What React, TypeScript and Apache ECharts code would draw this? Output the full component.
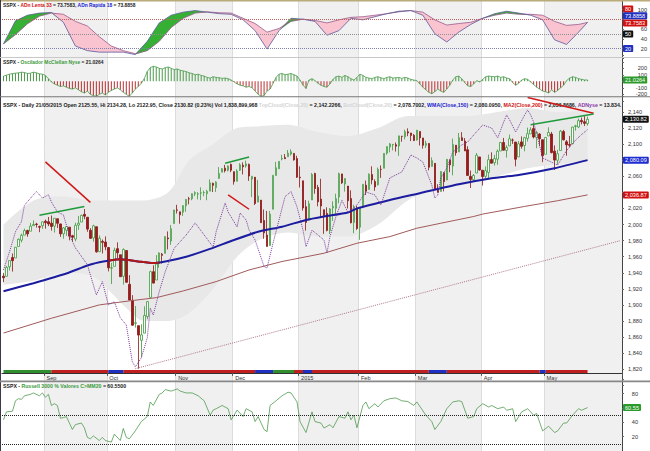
import React, { useEffect, useRef } from 'react';
import * as echarts from 'echarts';

// ---------- categories ----------
const HOLIDAYS = ['2014-09-01', '2014-11-27', '2014-12-25', '2015-01-01', '2015-01-19', '2015-02-16', '2015-04-03', '2015-05-25'];
const MONTH_NAMES = ['Jan', 'Feb', 'Mar', 'Apr', 'May', 'Jun', 'Jul', 'Aug', 'Sep', 'Oct', 'Nov', 'Dec'];
const DATA_DAYS = 196;
function buildDates(n: number): string[] {
  const out: string[] = [];
  let t = Date.UTC(2014, 7, 12);
  while (out.length < n) {
    const d = new Date(t);
    const wd = d.getUTCDay();
    const iso = d.toISOString().slice(0, 10);
    if (wd !== 0 && wd !== 6 && HOLIDAYS.indexOf(iso) < 0) out.push(iso);
    t += 86400000;
  }
  return out;
}
const DATES = buildDates(207);
const isMonthStart = (i: number) => i > 0 && i < DATA_DAYS && DATES[i].slice(5, 7) !== DATES[i - 1].slice(5, 7);
const monthLabel = (iso: string) => {
  const m = +iso.slice(5, 7);
  return m === 1 ? iso.slice(0, 4) : MONTH_NAMES[m - 1];
};

// ---------- price (open, high, low, close) ----------
const PRICES: number[][] = [
  [1935.7, 1939.6, 1928.3, 1933.75], [1935.6, 1948.4, 1935.6, 1946.72], [1947.4, 1955.2, 1942.9, 1955.18], [1958.9, 1964.0, 1941.5, 1955.06],
  [1958.4, 1971.99, 1958.4, 1971.74], [1972.7, 1982.6, 1972.7, 1981.6], [1980.5, 1988.6, 1977.7, 1986.51], [1986.8, 1994.8, 1986.8, 1992.37],
  [1992.6, 1993.5, 1984.8, 1988.4], [1991.7, 2001.9, 1991.7, 1997.92], [1998.6, 2005.0, 1998.6, 2000.02], [2000.5, 2002.1, 1996.2, 2000.12],
  [1997.4, 1998.6, 1990.5, 1996.74], [1998.5, 2003.4, 1994.6, 2003.37],
  [2004.1, 2006.1, 1994.9, 2002.28], [2003.6, 2009.3, 1998.1, 2000.72], [2001.7, 2011.2, 1992.4, 1997.65], [1998.0, 2007.7, 1990.1, 2007.71],
  [2007.2, 2007.2, 1995.6, 2001.54], [2000.7, 2001.0, 1984.6, 1988.44], [1988.4, 1996.7, 1982.3, 1995.69], [1992.9, 1997.7, 1985.9, 1997.45],
  [1996.7, 1996.7, 1980.3, 1985.54], [1986.0, 1987.2, 1978.5, 1984.13], [1981.9, 2002.3, 1979.1, 1998.98], [1999.3, 2010.7, 1993.3, 2001.57],
  [2003.1, 2012.3, 2003.1, 2011.36], [2012.7, 2019.3, 2006.6, 2010.4], [2009.1, 2009.1, 1991.0, 1994.29], [1992.8, 1995.4, 1982.3, 1982.77],
  [1983.3, 1999.8, 1978.6, 1998.3], [1997.3, 1997.3, 1965.0, 1965.99], [1966.2, 1986.4, 1966.2, 1982.85], [1978.96, 1981.3, 1964.0, 1977.8],
  [1978.2, 1985.2, 1968.0, 1972.29],
  [1971.4, 1971.4, 1941.7, 1946.16], [1945.8, 1952.3, 1926.0, 1946.17], [1948.0, 1971.2, 1948.0, 1967.9], [1970.0, 1977.8, 1958.4, 1964.82],
  [1962.4, 1962.4, 1935.1, 1935.1], [1935.6, 1970.4, 1925.3, 1968.89], [1967.7, 1967.7, 1927.6, 1928.21], [1925.6, 1936.98, 1906.05, 1906.13],
  [1905.7, 1912.1, 1874.1, 1874.74], [1877.1, 1898.7, 1871.8, 1877.7], [1874.2, 1874.2, 1820.7, 1862.49], [1855.95, 1876.0, 1835.0, 1862.76],
  [1864.9, 1898.2, 1864.9, 1886.76], [1885.6, 1905.0, 1882.3, 1904.01], [1909.4, 1942.5, 1909.4, 1941.28], [1941.3, 1949.3, 1926.8, 1927.11],
  [1931.0, 1961.95, 1931.0, 1950.82], [1951.6, 1965.3, 1946.3, 1964.58], [1962.97, 1964.6, 1951.4, 1961.63], [1964.1, 1985.1, 1964.1, 1985.05],
  [1983.3, 1991.4, 1969.0, 1982.3], [1979.5, 1999.4, 1974.8, 1994.65], [2001.2, 2018.2, 2001.2, 2018.05],
  [2018.2, 2024.5, 2013.7, 2017.81], [2015.8, 2015.98, 2001.0, 2012.1], [2015.3, 2023.8, 2010.7, 2023.57], [2023.3, 2031.6, 2015.9, 2031.21],
  [2032.0, 2034.3, 2025.1, 2031.92], [2032.0, 2038.7, 2030.2, 2038.26], [2038.2, 2041.3, 2035.3, 2039.68], [2037.8, 2040.3, 2031.3, 2038.25],
  [2039.2, 2046.2, 2030.4, 2039.33], [2039.7, 2042.2, 2035.2, 2039.82], [2038.3, 2043.1, 2030.2, 2041.32], [2041.5, 2056.1, 2041.5, 2051.8],
  [2051.2, 2052.1, 2040.4, 2048.72], [2045.9, 2053.8, 2040.5, 2052.75], [2057.5, 2071.5, 2056.8, 2063.5], [2065.1, 2070.2, 2065.1, 2069.41],
  [2070.1, 2074.2, 2064.8, 2067.03], [2067.4, 2073.3, 2066.1, 2072.83], [2074.8, 2075.8, 2065.1, 2067.56],
  [2065.8, 2065.8, 2049.6, 2053.44], [2053.8, 2068.8, 2053.8, 2066.55], [2067.5, 2076.3, 2066.7, 2074.33], [2073.6, 2077.3, 2062.3, 2071.92],
  [2072.8, 2079.5, 2070.8, 2075.37], [2074.8, 2075.8, 2054.3, 2060.31], [2056.6, 2060.6, 2034.2, 2059.82], [2058.9, 2058.9, 2024.3, 2026.14],
  [2027.9, 2055.5, 2027.9, 2035.33], [2030.4, 2030.4, 2002.3, 2002.33], [2005.0, 2018.7, 1982.3, 1989.63], [1986.7, 2016.9, 1972.6, 1972.74],
  [1973.8, 2016.8, 1973.8, 2012.89], [2018.98, 2061.2, 2018.98, 2061.23], [2061.0, 2077.9, 2061.0, 2070.65], [2069.3, 2078.8, 2069.3, 2078.54],
  [2081.5, 2086.7, 2079.8, 2082.17], [2083.3, 2087.6, 2081.9, 2081.88], [2084.3, 2092.7, 2084.3, 2088.77], [2087.6, 2093.6, 2085.8, 2090.57],
  [2088.5, 2088.5, 2079.5, 2080.35], [2082.1, 2085.6, 2057.9, 2058.9],
  [2058.9, 2072.4, 2046.0, 2058.2], [2054.4, 2054.4, 2017.3, 2020.58], [2022.2, 2030.3, 1992.4, 2002.61], [2005.6, 2029.6, 2005.6, 2025.9],
  [2030.6, 2064.1, 2030.6, 2062.14], [2063.5, 2064.4, 2038.3, 2044.81], [2046.1, 2049.3, 2022.6, 2028.26], [2031.6, 2056.9, 2008.3, 2023.03],
  [2018.4, 2018.4, 1988.4, 2011.27], [2013.8, 2021.4, 1991.5, 1992.67], [1992.3, 2020.5, 1988.1, 2019.42], [2020.8, 2028.9, 2004.5, 2022.55],
  [2020.2, 2038.3, 2012.0, 2032.12], [2034.3, 2064.6, 2026.4, 2063.15], [2062.98, 2062.98, 2050.5, 2051.82], [2050.4, 2057.6, 2040.97, 2057.09],
  [2047.9, 2047.9, 2019.9, 2029.55], [2032.3, 2042.5, 2001.5, 2002.16], [2002.5, 2024.6, 1989.2, 2021.25], [2019.4, 2023.3, 1993.4, 1994.99],
  [1996.7, 2021.7, 1980.9, 2020.85], [2022.7, 2050.3, 2022.7, 2050.03], [2048.9, 2054.7, 2036.7, 2041.51], [2043.5, 2063.6, 2043.5, 2062.52],
  [2062.3, 2072.4, 2049.97, 2055.47], [2053.5, 2056.2, 2041.9, 2046.74], [2049.4, 2070.9, 2048.6, 2068.59], [2068.6, 2073.5, 2057.99, 2068.53],
  [2069.98, 2088.5, 2069.98, 2088.48], [2088.8, 2097.0, 2086.7, 2096.99], [2096.5, 2101.3, 2089.8, 2100.34], [2099.2, 2100.2, 2092.2, 2099.68],
  [2099.3, 2102.1, 2090.8, 2097.45], [2097.7, 2110.6, 2085.4, 2110.3], [2109.8, 2110.1, 2103.0, 2109.66], [2109.1, 2117.9, 2105.9, 2115.48],
  [2115.3, 2119.6, 2109.9, 2113.86], [2113.9, 2113.9, 2103.8, 2110.74], [2110.9, 2112.7, 2103.8, 2104.5],
  [2105.2, 2117.5, 2104.5, 2117.39], [2115.8, 2115.8, 2098.3, 2107.78], [2107.7, 2107.7, 2094.5, 2098.53], [2098.5, 2104.3, 2095.2, 2101.04],
  [2100.9, 2100.9, 2067.3, 2071.26], [2072.3, 2083.5, 2072.2, 2079.43], [2076.1, 2076.1, 2044.2, 2044.16], [2044.7, 2050.1, 2039.7, 2040.24],
  [2041.1, 2066.4, 2041.1, 2065.95], [2064.6, 2064.6, 2041.2, 2053.4], [2055.4, 2081.4, 2055.4, 2081.19], [2080.6, 2080.6, 2065.1, 2074.28],
  [2072.8, 2106.9, 2061.2, 2099.5], [2098.7, 2098.7, 2085.6, 2089.27], [2090.3, 2113.9, 2090.3, 2108.1], [2107.99, 2114.9, 2104.4, 2104.42],
  [2103.9, 2107.6, 2091.5, 2091.5], [2093.1, 2097.4, 2061.1, 2061.05], [2059.9, 2067.2, 2045.5, 2056.15], [2055.8, 2062.8, 2052.96, 2061.02],
  [2064.1, 2088.97, 2064.1, 2086.24], [2084.1, 2084.1, 2067.0, 2067.89],
  [2067.6, 2067.6, 2048.4, 2059.69], [2060.0, 2072.2, 2057.3, 2066.96], [2064.9, 2086.99, 2056.5, 2080.62], [2080.8, 2089.8, 2076.1, 2076.33],
  [2076.9, 2086.7, 2073.3, 2081.9], [2081.3, 2093.3, 2074.3, 2091.18], [2091.5, 2102.6, 2091.5, 2102.06], [2102.0, 2107.7, 2092.3, 2092.43],
  [2092.3, 2098.6, 2083.2, 2095.84], [2097.8, 2111.9, 2097.8, 2106.63], [2105.0, 2107.0, 2100.3, 2104.99], [2102.6, 2102.6, 2072.4, 2081.18],
  [2084.1, 2103.9, 2084.1, 2100.4], [2102.8, 2109.6, 2094.4, 2097.29], [2098.3, 2109.0, 2091.1, 2107.96], [2107.2, 2120.5, 2103.2, 2112.93],
  [2112.8, 2120.9, 2112.8, 2117.69], [2119.3, 2125.9, 2107.0, 2108.92], [2108.4, 2116.0, 2094.9, 2114.76], [2112.5, 2113.7, 2097.4, 2106.85],
  [2105.5, 2105.5, 2077.6, 2085.51],
  [2087.4, 2108.4, 2087.4, 2108.29], [2110.2, 2120.95, 2110.2, 2114.49], [2112.6, 2115.2, 2088.5, 2089.46], [2091.3, 2098.4, 2067.9, 2080.15],
  [2079.96, 2092.9, 2074.99, 2088.0], [2092.1, 2117.7, 2092.1, 2116.1], [2115.6, 2117.7, 2104.6, 2105.33], [2102.9, 2105.1, 2085.6, 2099.12],
  [2099.6, 2110.2, 2096.0, 2098.48], [2100.4, 2121.5, 2100.4, 2121.1], [2122.1, 2123.9, 2116.8, 2122.73], [2121.3, 2131.8, 2120.0, 2129.2],
  [2129.5, 2133.0, 2124.5, 2127.83], [2127.8, 2134.7, 2122.6, 2125.85], [2125.55, 2134.28, 2122.95, 2130.82],
];

// ---------- main overlays ([day index, value]) ----------
const WMA150: number[][] = [[0, 1917], [10, 1927], [21, 1939], [28, 1949], [32, 1953], [35, 1955], [39, 1956.8], [45, 1954], [50, 1952], [54, 1954], [61, 1960], [68, 1968.4], [77, 1980.8], [85, 1991], [93, 1997.3], [101, 2005.7], [107, 2010], [115, 2015], [118, 2020], [129, 2030.6], [139, 2039], [152, 2050], [163, 2057.5], [172, 2061.6], [184, 2070], [195, 2080.09]];
const WMA150_RED: number[][] = [[35, 1955], [39, 1956.8], [45, 1954], [50, 1952], [52, 1952.8]];
const MA200: number[][] = [[0, 1865], [16, 1883.4], [32, 1900], [42, 1905], [51, 1909], [60, 1917.4], [71, 1929], [82, 1943.5], [93, 1954], [107, 1964.3], [118, 1976.7], [129, 1985], [138, 1995.4], [146, 2001.6], [157, 2010], [160, 2013], [174, 2022.5], [185, 2029.6], [195, 2036.87]];
const ADNYSE: number[][] = [[0, 1943.5], [2, 1966], [4, 1991], [6, 2003.6], [7, 2024], [10, 2037], [11, 2041], [13, 2033], [15, 2037], [16, 2028], [18, 2015.6], [20, 2012], [22, 1987], [24, 1971], [28, 1950], [31, 1912.4], [33, 1929], [35, 1900], [37, 1904], [39, 1884], [41, 1875], [43, 1829.4], [44, 1823], [46, 1834], [48, 1859], [49, 1896], [50, 1887.5], [52, 1916.5], [54, 1941.4], [57, 1970.5], [59, 1978.7], [61, 1987], [64, 2002], [67, 1987], [69, 1977], [70, 1972], [71, 1991], [74, 2026.8], [75, 2015.6], [78, 1997], [79, 2014.4], [81, 2005.7], [82, 1993], [84, 1980.8], [87, 1947.6], [88, 1946], [90, 1977], [92, 2005.7], [94, 2034.7], [96, 2041], [98, 2022], [100, 1993], [101, 1972.5], [103, 1993], [107, 1980.8], [108, 1964.6], [109, 1985], [111, 2009.8], [113, 2030], [115, 2015], [118, 2024.3], [121, 2040.5], [124, 2036.8], [126, 2024.3], [129, 2058], [133, 2065.4], [136, 2086.5], [138, 2082.8], [140, 2077.8], [143, 2049.2], [144, 2033], [145, 2036.8], [146, 2058], [148, 2070.3], [150, 2090.2], [153, 2099], [155, 2102.7], [157, 2111.4], [160, 2123.8], [163, 2120], [165, 2107.7], [167, 2127.6], [168, 2136.3], [169, 2130], [171, 2115], [174, 2136.3], [175, 2142.5], [176, 2136.3], [177, 2127.6], [180, 2082.8], [185, 2074], [188, 2092], [191, 2105], [193, 2112], [195, 2118]];
const CLOUD_IDX = [0, 10, 20, 30, 40, 47, 55, 62, 70, 78, 85, 95, 105, 115, 125, 135, 145, 155, 165, 175, 185, 195];
const CLOUD_UP = [2000, 2030, 2035, 2030, 2030, 2030, 2040, 2080, 2100, 2120, 2122, 2124, 2115, 2110, 2120, 2135, 2135, 2135, 2140, 2145, 2140, 2142.2];
const CLOUD_LO = [1925, 1930, 1940, 1935, 1900, 1880, 1880, 1890, 1920, 1960, 1980, 1990, 1985, 1985, 2000, 2030, 2045, 2050, 2060, 2070, 2075, 2078.7];
const SUPPORT_LINE: number[][] = [[44, 1820.66], [206, 1980]];
const TRENDS_RED: number[][][] = [[[14, 2078], [29, 2027.5]], [[75, 2036.8], [82, 2019]], [[175, 2158], [197, 2138.5]]];
const TRENDS_GREEN: number[][][] = [[[12, 2011.5], [27, 2022.3]], [[74, 2076.2], [82, 2084]], [[176, 2124], [197, 2137.4]]];
// bottom state strip: [from, to, state]
const STRIP: [number, number, string][] = [[0, 16, 'g'], [16, 35, 'r'], [35, 40, 'b'], [40, 84, 'r'], [84, 90, 'b'], [90, 97, 'g'], [97, 100, 'r'], [100, 103, 'b'], [103, 142, 'r'], [142, 148, 'b'], [148, 179, 'r'], [179, 181, 'b'], [181, 195, 'r']];

// ---------- ADn panel ----------
const ADN_IDX = [0, 4, 8, 12, 16, 20, 24, 28, 32, 36, 40, 44, 48, 52, 56, 60, 64, 68, 72, 76, 80, 84, 88, 92, 96, 100, 104, 108, 112, 116, 120, 124, 128, 132, 136, 140, 144, 148, 152, 156, 160, 164, 168, 172, 176, 180, 184, 188, 192, 195];
const ADN_FAST = [29.5, 77, 88.6, 93, 94.3, 74, 25.1, 15.6, 12.5, 12.5, 12.5, 7.4, 34.7, 72.8, 88.6, 95, 98.2, 95, 91.8, 90.5, 79.1, 56.9, 18.8, 56.9, 82.3, 80.4, 75.9, 47.4, 56.9, 82.3, 79.1, 85.5, 91.8, 96.9, 98.2, 88.6, 50.5, 33.4, 53.7, 69.6, 82.3, 91.8, 96.9, 93, 88.6, 79.1, 37.8, 28.3, 53.7, 73.8858];
const ADN_SLOW = [29.5, 48.6, 70.9, 86.7, 93, 90.5, 75.9, 66.4, 44.2, 25.1, 15.6, 9.3, 15.6, 34.7, 63.2, 82.3, 93, 95.6, 93.7, 93, 82.3, 71.5, 53.7, 61.3, 75.9, 80.4, 77.8, 72.8, 79.1, 84.2, 85.5, 88.6, 91.8, 95.6, 98.2, 95, 79.1, 68.3, 71.5, 74, 82.3, 88.6, 93, 90.5, 90.5, 88.6, 75.9, 67.7, 69.6, 73.7583];

// ---------- McClellan ----------
const MCCLELLAN = [
  80, 95, 110, 120, 125, 130, 140, 135, 120, 125, 140, 130, 115, 110, 90, 40, -10,
  -40, -60, -80, -70, -90, -110, -120, -100, -130, -160, -180, -150, -200, -220, -230,
  -200, -180, -210, -170, -140, -120, -100, -130, -170, -200, -230, -180, -120, -80, -30,
  40, 150, 210, 230, 220, 200, 190, 210, 220, 200, 180, 190, 170, 160, 150,
  130, 120, 100, 110, 90, 80, 60, 50, 70, 60, 55, 45, 50, 40, 20,
  -10, -40, -60, -70, -90, -80, -100, -150, -200, -230, -220, -150, -120,
  -30, 60, 110, 120, 100, 110, 120, 100, 80, 20, -60, -110, 20, 40, 10, -30, -60, -80,
  -90, -40, 30, 70, 80, 60, 90, 70, 40, 20, 60, 110, 90, 60,
  50, 40, 60, 70, 55, 40, 60, 70, 50, 55, 60, 45, 60, 50, 30, 20, 10,
  -40, -90, -130, -170, -190, -160, -120, -150, -170, -120, -60,
  20, 70, 80, 40, -20, -70, -80, -40, 10, -10, 30,
  70, 80, 75, 70, 80, 60, 70, 50, 40, -20, -60, -30, 20, 40, 30, -10,
  -50, -90, -120, -150, -160, -180, -130, -170, -140, -100, -60,
  10, 50, 70, 60, 40, 30, 20, 21.0264,
];

// ---------- Russell 3000 % > MM20 ----------
const RUSSELL: number[][] = [[0, 43.5], [1, 54.6], [3, 55.5], [4, 70], [5, 73], [6, 72], [7, 77], [9, 79], [10, 81], [12, 77], [13, 81], [14, 75], [15, 79], [16, 63.5], [17, 66], [18, 63.5], [19, 45.7], [20, 46.6], [21, 48], [23, 30], [24, 36.8], [26, 39], [27, 32.4], [28, 19], [29, 17], [30, 21], [32, 14.6], [33, 19], [34, 14.6], [36, 12.4], [37, 23.5], [39, 14.6], [40, 31.5], [41, 19], [42, 17], [44, 28], [46, 41], [48, 48], [49, 68.4], [50, 63.5], [52, 79], [53, 81], [54, 85.7], [56, 83.5], [58, 86.6], [59, 83.5], [61, 81], [63, 81], [65, 77], [67, 70], [69, 50], [70, 57], [71, 59], [73, 63.5], [75, 59], [76, 43.5], [78, 57], [80, 48], [81, 59], [83, 54.6], [84, 41], [85, 48], [87, 30], [88, 27], [89, 63.5], [91, 70], [93, 77], [95, 82], [96, 81], [98, 68.4], [99, 41], [101, 25.7], [103, 54.6], [104, 41], [106, 39], [107, 32], [109, 36.8], [110, 32.4], [112, 48], [114, 45.7], [115, 54.6], [116, 43.5], [117, 50], [118, 32.4], [120, 63.5], [121, 68.4], [122, 59], [124, 66], [125, 61.3], [127, 70], [129, 73], [131, 74], [133, 70], [135, 69], [137, 63.5], [138, 68.4], [141, 50], [143, 41], [144, 30], [146, 41], [147, 50], [148, 59], [150, 68.4], [152, 70], [153, 69], [155, 45.7], [157, 48], [158, 59], [160, 66], [162, 61.3], [163, 63.5], [165, 59], [167, 61.3], [168, 56.8], [170, 59], [171, 41], [173, 54.6], [175, 59], [177, 50], [178, 52.3], [180, 28], [182, 34.6], [184, 25.7], [185, 28], [187, 39], [188, 39], [190, 50], [192, 59], [193, 56.8], [195, 60.55]];

// ---------- shown tick labels (others are covered by value tags) ----------
const TICKS_ADN = [20, 40, 60, 100];
const TICKS_MCC = [-200, -100, 100, 200];
const TICKS_MAIN = [1820, 1840, 1860, 1880, 1900, 1920, 1940, 1960, 1980, 2000, 2020, 2060, 2100, 2120, 2140];
const TICKS_RUS = [20, 40, 80];

const FONT = 'Liberation Sans';
const FS = 5.6;

function tag(value: number, text: string, bg: string, dy = 0, color = '#fff') {
  return {
    yAxis: value,
    lineStyle: { color: 'rgba(0,0,0,0)', width: 0 },
    label: {
      show: true, position: 'end', formatter: text, backgroundColor: bg, color,
      padding: [1, 2, 0, 2], fontSize: FS, fontFamily: FONT, distance: 1, offset: [0, dy], borderRadius: 1,
    },
  };
}
function hline(value: number, color: string) {
  return { yAxis: value, lineStyle: { color, type: 'dotted', width: 1 }, label: { show: false } };
}

export default function App() {
  const ref = useRef<HTMLDivElement>(null);
  useEffect(() => {
    if (!ref.current) return;
    const chart = echarts.init(ref.current, undefined, { renderer: 'svg' });
    const GL = 2, GR = 28;
    // px per unit: ADn 0.525, McC 0.065, main 0.804, Russell 0.75
    const grids = [
      { left: GL, right: GR, top: -4.8, height: 63 },        // 0..120
      { left: GL, right: GR, top: 55.3, height: 45.5 },      // -300..400
      { left: GL, right: GR, top: 95.9, height: 289.4 },     // 1800..2160
      { left: GL, right: GR, top: 379.3, height: 75 },       // 0..100
    ];
    const monthFn = (i: number) => isMonthStart(i);
    const xAxes = grids.map((_, gi) => ({
      type: 'category', gridIndex: gi, data: DATES, boundaryGap: true,
      offset: gi === 2 ? -12.4 : 0,
      axisLine: { show: gi === 2, lineStyle: { color: '#333', width: 1 } },
      axisTick: { show: gi === 2, interval: monthFn, length: 3, lineStyle: { color: '#555' } },
      axisLabel: {
        show: gi === 2, interval: monthFn, formatter: (v: string) => monthLabel(v), align: 'left',
        margin: 2, padding: [0, 0, 0, 1], fontSize: FS, fontFamily: FONT, color: '#333',
      },
      splitLine: { show: true, interval: monthFn, lineStyle: { color: '#dcdcdc', width: 1 } },
      splitArea: { show: true, interval: monthFn, areaStyle: { color: ['#ffffff', '#f0f0f0'] } },
    }));
    const yBase = (gi: number, min: number, max: number, interval: number, shown: number[], margin: number, grid: boolean, fmt?: (v: number) => string) => ({
      type: 'value', gridIndex: gi, position: 'right', min, max, interval,
      axisLine: { show: true, lineStyle: { color: '#444' } },
      axisTick: { show: true, length: 2, lineStyle: { color: '#666' } },
      axisLabel: {
        fontSize: FS, fontFamily: FONT, color: '#333', align: 'right', margin,
        formatter: (v: number) => (shown.indexOf(v) >= 0 ? (fmt ? fmt(v) : String(v)) : ''),
      },
      splitLine: { show: grid, lineStyle: { color: '#e4e4e4', width: 1 } },
    });
    const yAxes = [
      yBase(0, 0, 120, 20, TICKS_ADN, 25, false),
      yBase(1, -300, 400, 100, TICKS_MCC, 25, false),
      yBase(2, 1800, 2160, 20, TICKS_MAIN, 20, true, (v: number) => v.toLocaleString('en-US')),
      yBase(3, 0, 100, 20, TICKS_RUS, 16, true),
    ];

    const adnMin = ADN_IDX.map((x, k) => [x, Math.min(ADN_FAST[k], ADN_SLOW[k])]);
    const adnGreen = ADN_IDX.map((x, k) => [x, Math.max(ADN_FAST[k] - ADN_SLOW[k], 0)]);
    const adnPink = ADN_IDX.map((x, k) => [x, Math.max(ADN_SLOW[k] - ADN_FAST[k], 0)]);
    const noLine = { width: 0, opacity: 0 };

    const stripColors: Record<string, string> = { g: '#2f8f2f', r: '#c01f1f', b: '#1f2fc0' };
    const stripSeries = ['g', 'r', 'b'].map((s) => {
      const data: any[] = [];
      STRIP.forEach(([a, b, st]) => {
        if (st !== s) return;
        data.push([a, 1817.3], [b, 1817.3], [b, '-']);
      });
      return {
        type: 'line', xAxisIndex: 2, yAxisIndex: 2, data, symbol: 'none',
        connectNulls: false, lineStyle: { color: stripColors[s], width: 3, cap: 'butt' }, silent: true, z: 6,
      };
    });

    const series: any[] = [
      // ---- ADn panel
      { type: 'line', xAxisIndex: 0, yAxisIndex: 0, stack: 'adn', data: adnMin, symbol: 'none', lineStyle: noLine, areaStyle: { opacity: 0 }, silent: true },
      { type: 'line', xAxisIndex: 0, yAxisIndex: 0, stack: 'adn', data: adnGreen, symbol: 'none', lineStyle: noLine, areaStyle: { color: '#35b035', opacity: 1 }, silent: true },
      { type: 'line', xAxisIndex: 0, yAxisIndex: 0, stack: 'adn', data: adnPink, symbol: 'none', lineStyle: noLine, areaStyle: { color: '#f9c3d0', opacity: 1 }, silent: true },
      {
        type: 'line', name: 'ADn Lenta 33', xAxisIndex: 0, yAxisIndex: 0, data: ADN_IDX.map((x, k) => [x, ADN_SLOW[k]]), symbol: 'none',
        lineStyle: { color: '#9a5a8a', width: 0.8 }, silent: true, z: 4,
        markLine: {
          silent: true, symbol: 'none',
          data: [hline(80, '#c06060'), hline(50, '#909090'), hline(20, '#8080b0'),
            tag(80, '80', '#d01010', -10.5), tag(50, '50', '#111', 0), tag(20, '20', '#2030c0', 0),
            tag(73.7583, '73.7583', '#d01010', 0.5)],
        },
      },
      {
        type: 'line', name: 'ADn Rapida 18', xAxisIndex: 0, yAxisIndex: 0, data: ADN_IDX.map((x, k) => [x, ADN_FAST[k]]), symbol: 'none',
        lineStyle: { color: '#5a5a9a', width: 0.8 }, silent: true, z: 4,
        markLine: { silent: true, symbol: 'none', data: [tag(73.8858, '73.8858', '#2030c0', -6.5)] },
      },
      // ---- McClellan
      {
        type: 'bar', xAxisIndex: 1, yAxisIndex: 1, data: MCCLELLAN, barWidth: 0.8,
        itemStyle: { color: (p: any) => (p.value >= 0 ? '#4a9a4a' : '#b83030') }, silent: true,
      },
      {
        type: 'line', xAxisIndex: 1, yAxisIndex: 1, data: MCCLELLAN, symbol: 'none', lineStyle: { width: 0.8, color: '#4a9a4a' }, silent: true,
        markLine: { silent: true, symbol: 'none', data: [tag(21.0264, '21.0264', '#2a9a2a', 0)] },
      },
      // ---- main panel
      { type: 'line', xAxisIndex: 2, yAxisIndex: 2, stack: 'cloud', z: 1, data: CLOUD_IDX.map((x, k) => [x, CLOUD_LO[k]]), symbol: 'none', smooth: 0.3, lineStyle: noLine, areaStyle: { opacity: 0 }, silent: true },
      { type: 'line', xAxisIndex: 2, yAxisIndex: 2, stack: 'cloud', z: 1, data: CLOUD_IDX.map((x, k) => [x, CLOUD_UP[k] - CLOUD_LO[k]]), symbol: 'none', smooth: 0.3, lineStyle: noLine, areaStyle: { color: '#e8e8e8', opacity: 1 }, silent: true },
      {
        type: 'candlestick', xAxisIndex: 2, yAxisIndex: 2, z: 3, data: PRICES.map(([o, h, l, c]) => [o, c, l, h]), barWidth: 2,
        itemStyle: { color: '#ffffff', color0: '#9e1a1a', borderColor: '#3c9a3c', borderColor0: '#8a1515', borderWidth: 0.8 },
        markLine: { silent: true, symbol: 'none', data: [tag(2130.82, '2,130.82', '#111', 0)] },
        silent: true,
      },
      {
        type: 'line', xAxisIndex: 2, yAxisIndex: 2, z: 4, data: MA200, symbol: 'none', lineStyle: { color: '#a05a5a', width: 1 }, silent: true,
        markLine: { silent: true, symbol: 'none', data: [tag(2036.87, '2,036.87', '#d01010', 0)] },
      },
      { type: 'line', xAxisIndex: 2, yAxisIndex: 2, z: 4, data: SUPPORT_LINE, symbol: 'none', lineStyle: { color: '#b07a8a', width: 1, type: 'dotted' }, silent: true },
      {
        type: 'line', xAxisIndex: 2, yAxisIndex: 2, z: 4, data: WMA150, symbol: 'none', smooth: 0.2, lineStyle: { color: '#1c1ca0', width: 2 }, silent: true,
        markLine: { silent: true, symbol: 'none', data: [tag(2080.09, '2,080.09', '#1c2cd0', 0)] },
      },
      { type: 'line', xAxisIndex: 2, yAxisIndex: 2, z: 4, data: WMA150_RED, symbol: 'none', smooth: 0.2, lineStyle: { color: '#b01818', width: 2 }, silent: true },
      { type: 'line', xAxisIndex: 2, yAxisIndex: 2, z: 5, data: ADNYSE, symbol: 'none', lineStyle: { color: '#7a3a9a', width: 1, type: 'dotted' }, silent: true },
      ...TRENDS_RED.map((d) => ({ type: 'line', xAxisIndex: 2, yAxisIndex: 2, z: 6, data: d, symbol: 'none', lineStyle: { color: '#d01818', width: 1.5 }, silent: true })),
      ...TRENDS_GREEN.map((d) => ({ type: 'line', xAxisIndex: 2, yAxisIndex: 2, z: 6, data: d, symbol: 'none', lineStyle: { color: '#1f9a3a', width: 1.5 }, silent: true })),
      ...stripSeries,
      // ---- Russell panel
      {
        type: 'line', xAxisIndex: 3, yAxisIndex: 3, data: RUSSELL, symbol: 'none', lineStyle: { color: '#4f9a4f', width: 0.8 }, silent: true,
        markLine: { silent: true, symbol: 'none', data: [hline(50, '#222'), hline(10, '#222'), tag(60.55, '60.55', '#2a9a2a', 0)] },
      },
    ];

    const mkRich = (fs: number) => ({
      k: { color: '#222', fontSize: fs, fontFamily: FONT },
      r: { color: '#d01010', fontSize: fs, fontFamily: FONT },
      b: { color: '#1a1ad0', fontSize: fs, fontFamily: FONT },
      g: { color: '#3a9a3a', fontSize: fs, fontFamily: FONT },
      p: { color: '#8a3aaa', fontSize: fs, fontFamily: FONT },
      f: { color: '#d4d4d4', fontSize: fs, fontFamily: FONT },
    });
    const title = (top: number, text: string, fs: number) => ({ left: 3, top, padding: 0, text, textStyle: { rich: mkRich(fs), fontSize: fs, fontFamily: FONT } });

    chart.setOption({
      animation: false,
      backgroundColor: '#ffffff',
      textStyle: { fontFamily: FONT, fontSize: FS },
      title: [
        title(3, '{k|SSPX - }{r|ADn Lenta 33}{k| = 73.7583, }{b|ADn Rapida 18}{k| = 73.8858}', 4.9),
        title(59.5, '{k|SSPX - }{g|Oscilador McClellan Nyse}{k| = 21.0264}', 4.9),
        title(102.5, '{k|SSPX - Daily 21/05/2015 Open 2125.55, Hi 2134.28, Lo 2122.95, Close 2130.82 (0.23%) Vol 1,838,899,968 }{f|TopCloud(Close,20)}{k| = 2,142.2266, }{f|BotCloud(Close,20)}{k| = 2,078.7002, }{b|WMA(Close,150)}{k| = 2,080.0950, }{r|MA2(Close,200)}{k| = 2,036.8686, }{p|ADNyse}{k| = 13.834.}', 5.25),
        title(383.5, '{k|SSPX - }{g|Russell 3000 % Valores C>MM20}{k| = 60.5500}', 5.2),
      ],
      grid: grids,
      xAxis: xAxes,
      yAxis: yAxes,
      visualMap: [{
        show: false, type: 'piecewise', seriesIndex: 6, dimension: 1,
        pieces: [{ gte: 0, lte: 1000, color: '#4a9a4a' }, { gte: -1000, lt: 0, color: '#b83030' }],
        outOfRange: { color: '#4a9a4a' },
      }],
      graphic: [
        { type: 'rect', shape: { x: 0, y: 0, width: 650, height: 1.5 }, style: { fill: '#b9ab7a' }, silent: true, z: 100 },
        { type: 'rect', shape: { x: 0, y: 0, width: 1, height: 451 }, style: { fill: '#3a3a4a' }, silent: true, z: 100 },
        { type: 'rect', shape: { x: 0, y: 57, width: 650, height: 1 }, style: { fill: '#c8c8c8' }, silent: true, z: 100 },
        { type: 'rect', shape: { x: 0, y: 96.3, width: 650, height: 1 }, style: { fill: '#777' }, silent: true, z: 100 },
        { type: 'rect', shape: { x: 0, y: 380.5, width: 650, height: 1.8 }, style: { fill: '#888' }, silent: true, z: 100 },
      ],
      series,
    });
    return () => chart.dispose();
  }, []);
  return <div ref={ref} style={{ width: 650, height: 451, position: 'absolute', left: 0, top: 0 }} />;
}
